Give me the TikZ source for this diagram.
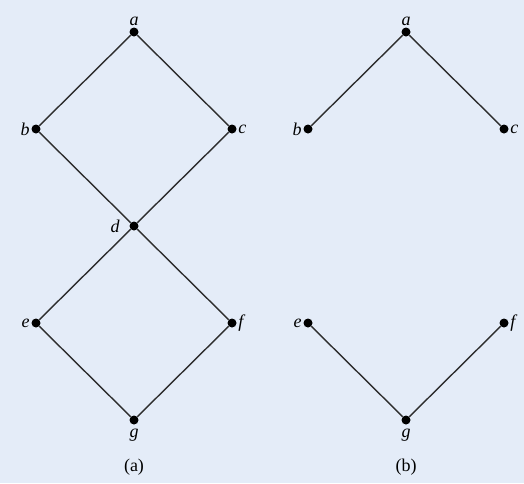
\documentclass[tikz,border=0pt]{standalone}
\usepackage{fontspec}
\setmainfont{Liberation Serif}
\usetikzlibrary{math}
\definecolor{bgblue}{RGB}{228,236,248}
\definecolor{edgegray}{RGB}{45,45,45}

\begin{document}
\begin{tikzpicture}[x=1pt,y=-1pt,
  vertex/.style={circle,fill=black,inner sep=0pt,minimum size=9pt},
  lbl/.style={font=\fontsize{18}{20}\selectfont\itshape,inner sep=1.5pt},
  edge/.style={draw=edgegray,line width=1.4pt}]

\tikzmath{
\xl = 134; %axis of left diagram
\xr = 406; %axis of right diagram
\w = 98; %half width
\s = 97; %level step
\yt = 32; %top level
}

\fill[bgblue] (0,0) rectangle (524,483);

% (a) the full lattice
\node[vertex,label={[lbl]above:a}] (la) at (\xl,\yt) {};
\node[vertex,label={[lbl]left:b}] (lb) at (\xl-\w,\yt+\s) {};
\node[vertex,label={[lbl]right:c}] (lc) at (\xl+\w,\yt+\s) {};
\node[vertex,label={[lbl,label distance=8pt]182:d}] (ld) at (\xl,\yt+2*\s) {};
\node[vertex,label={[lbl]left:e}] (le) at (\xl-\w,\yt+3*\s) {};
\node[vertex,label={[lbl]right:f}] (lf) at (\xl+\w,\yt+3*\s) {};
\node[vertex,label={[lbl,label distance=3pt]below:g}] (lg) at (\xl,\yt+4*\s) {};

\foreach \u/\v in {la/lb, la/lc, lb/ld, lc/ld, ld/le, ld/lf, le/lg, lf/lg}
  \draw[edge] (\u) -- (\v);

% (b) after removing d
\node[vertex,label={[lbl]above:a}] (ra) at (\xr,\yt) {};
\node[vertex,label={[lbl]left:b}] (rb) at (\xr-\w,\yt+\s) {};
\node[vertex,label={[lbl]right:c}] (rc) at (\xr+\w,\yt+\s) {};
\node[vertex,label={[lbl]left:e}] (re) at (\xr-\w,\yt+3*\s) {};
\node[vertex,label={[lbl]right:f}] (rf) at (\xr+\w,\yt+3*\s) {};
\node[vertex,label={[lbl,label distance=3pt]below:g}] (rg) at (\xr,\yt+4*\s) {};

\foreach \u/\v in {ra/rb, ra/rc, re/rg, rf/rg}
  \draw[edge] (\u) -- (\v);

\node[font=\fontsize{18}{20}\selectfont] (capa) at (\xl,467) {(a)};
\node[font=\fontsize{18}{20}\selectfont] (capb) at (\xr,467) {(b)};

\end{tikzpicture}
\end{document}
